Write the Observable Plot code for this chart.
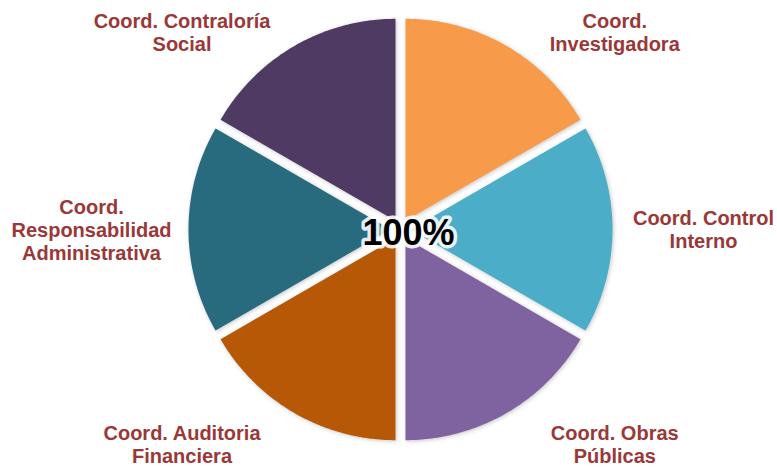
<!DOCTYPE html>
<html>
<head>
<meta charset="utf-8">
<script src="https://cdn.jsdelivr.net/npm/d3@7"></script>
<script src="https://cdn.jsdelivr.net/npm/@observablehq/plot@0.6"></script>
<style>
  html, body { margin: 0; padding: 0; background: #ffffff; }
  #chart svg g[aria-label="line"] path { filter: drop-shadow(1px 1px 2px rgba(0,0,0,0.22)); }
</style>
</head>
<body>
<div id="chart"></div>
<script>
// Data (clockwise from 12 o'clock)
const categories = [
  "Coord.\nInvestigadora",
  "Coord. Control\nInterno",
  "Coord. Obras\nPúblicas",
  "Coord. Auditoria\nFinanciera",
  "Coord.\nResponsabilidad\nAdministrativa",
  "Coord. Contraloría\nSocial"
];
const values = [1, 1, 1, 1, 1, 1];
const colors = ["#F79A4A", "#4BADC7", "#7F63A1", "#B75807", "#296B7E", "#4E3A62"];
const centerLabel = "100%";

// Layout
const W = 777, H = 467;
const cx = 400, cy = 229;      // pie centre in pixels
const R = 202;                  // radius
const explode = 10;             // slice offset
const labelRight = 303, labelLeft = 309, labelTop = 279, labelBottom = 304; // label ellipse radii

const arcs = d3.pie().sort(null).value(d => d)(values);
const polys = [];
arcs.forEach((a, i) => {
  const mid = (a.startAngle + a.endAngle) / 2;
  const ox = explode * Math.sin(mid), oy = explode * Math.cos(mid);
  polys.push({slice: categories[i], x: ox, y: oy});
  const n = 80;
  for (let k = 0; k <= n; k++) {
    const t = a.startAngle + (a.endAngle - a.startAngle) * k / n;
    polys.push({slice: categories[i], x: ox + R * Math.sin(t), y: oy + R * Math.cos(t)});
  }
  polys.push({slice: categories[i], x: ox, y: oy});
});

const labels = arcs.map((a, i) => {
  const mid = (a.startAngle + a.endAngle) / 2;
  const step = Math.PI / 4;
  const t = Math.round(mid / step) * step;
  const s = Math.sin(t), c = Math.cos(t);
  const ax = s >= 0 ? labelRight : labelLeft;
  const by = c >= 0 ? labelTop : labelBottom;
  return {text: categories[i], x: ax * s, y: by * c};
});

const chart = Plot.plot({
  width: W,
  height: H,
  margin: 0,
  style: {background: "#ffffff", fontFamily: "'Liberation Sans', Arial, sans-serif"},
  x: {domain: [-cx, W - cx], axis: null},
  y: {domain: [-(H - cy), cy], axis: null},
  color: {type: "ordinal", domain: categories, range: colors},
  marks: [
    Plot.line(polys, {x: "x", y: "y", z: "slice", fill: "slice", stroke: "none", curve: "linear"}),
    Plot.text(labels, {
      x: "x", y: "y", text: "text",
      fill: "#9A3837", fontSize: 20, fontWeight: "bold",
      lineHeight: 1.14, lineAnchor: "middle", textAnchor: "middle"
    }),
    Plot.text([centerLabel], {
      x: () => 0, y: () => 0, text: d => d, dx: 8, dy: 4,
      fill: "#000000", stroke: "#ffffff", strokeWidth: 7, strokeOpacity: 0.9,
      fontSize: 36, fontWeight: "bold", lineAnchor: "middle", textAnchor: "middle"
    })
  ]
});
document.getElementById("chart").appendChild(chart);
</script>
</body>
</html>
